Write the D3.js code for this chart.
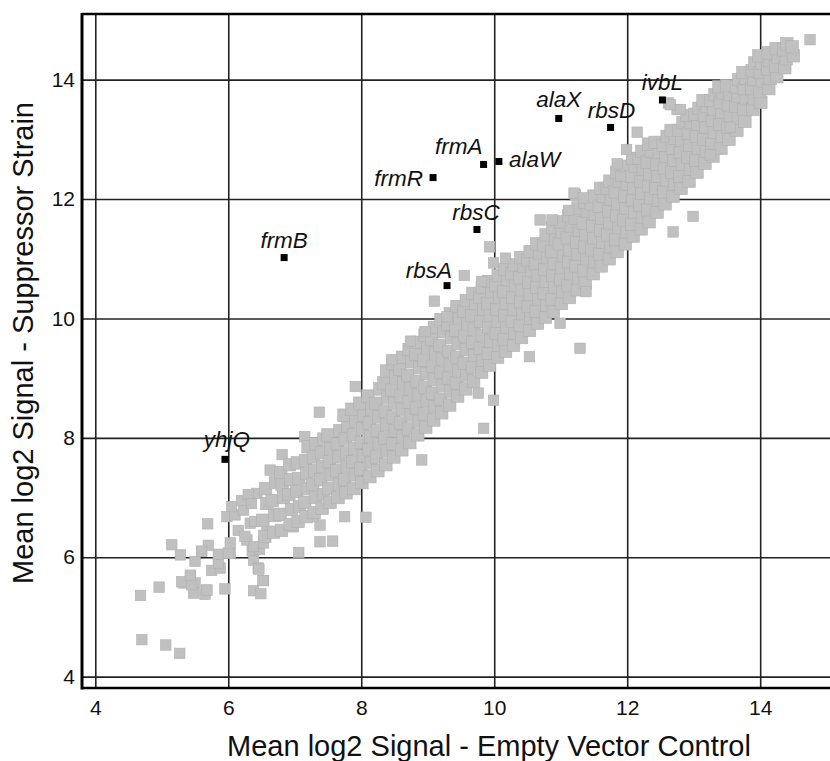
<!DOCTYPE html>
<html>
<head>
<meta charset="utf-8">
<script src="https://cdn.jsdelivr.net/npm/d3@7"></script>
<style>
  body { margin: 0; background: #fff; }
  svg { display: block; font-family: "Liberation Sans", Arial, sans-serif; }
</style>
</head>
<body>
<script>

// Tick values on both axes
const xTicks = [4, 6, 8, 10, 12, 14];
const yTicks = [4, 6, 8, 10, 12, 14];

// Highlighted genes (black squares)
const geneNames = ["ivbL", "alaX", "rbsD", "frmA", "alaW", "frmR", "rbsC", "frmB", "rbsA", "yhjQ"];
const geneX = [12.53, 10.97, 11.75, 9.84, 10.07, 9.08, 9.74, 6.84, 9.29, 5.95];
const geneY = [13.66, 13.35, 13.20, 12.58, 12.63, 12.36, 11.49, 11.02, 10.55, 7.64];

// Low end tail and scattered points
const tailPoints = [
  [4.68,5.36],[4.96,5.50],[4.70,4.62],[5.06,4.53],[5.27,4.39],[5.43,5.69],[5.33,5.57],[5.50,5.57],
  [5.48,5.40],[5.67,5.45],[5.65,5.38],[5.95,5.47],[5.75,5.78],[5.88,5.82],[5.85,5.90],[5.50,5.93],
  [5.28,6.04],[5.60,6.10],[5.85,6.05],[6.03,6.07],[6.38,5.95],[6.45,5.82],[6.53,5.61],[6.38,5.44],
  [6.49,5.39],[6.36,6.11],[6.47,6.13],[5.30,5.59],[5.45,5.54],[5.68,5.45],[6.52,5.61],[6.46,5.80],
  [5.43,5.70],[5.15,6.21],[5.69,6.56],[5.70,6.20],[5.60,6.10],[6.00,6.07],[6.03,6.24],[5.98,6.68],
  [6.10,6.71],[6.23,6.79],[6.33,6.57],[6.28,6.29],[6.38,6.18],[6.53,6.24],[6.58,6.43],[6.43,7.07],
  [6.63,7.46],[6.78,7.30],[6.81,7.72],[6.98,6.51],[7.06,6.08],[7.38,6.26],[7.57,6.27],[7.75,6.68],
  [8.07,6.67],[7.38,6.54],[7.28,6.68],[7.37,8.43],[7.91,8.86],[7.15,8.02],[6.05,6.85],[6.20,6.95],
  [6.30,7.05],[6.15,6.45],[6.25,6.35],[6.40,6.60],[6.35,6.90]
];

// Outliers around the main band
const nearPoints = [
  [14.75,14.67],[12.15,13.12],[11.99,12.83],[11.85,12.59],[11.90,12.38],[13.55,13.20],[13.25,12.74],
  [12.99,11.71],[12.69,11.45],[11.22,12.07],[11.12,11.81],[12.62,13.61],[12.75,13.50],[11.20,12.10],
  [11.34,12.02],[9.93,11.20],[9.99,10.93],[10.17,11.01],[9.55,10.72],[9.81,10.62],[11.38,10.45],
  [11.29,9.50],[10.99,9.92],[10.69,11.65],[10.87,11.65],[9.10,10.29],[9.29,10.03],[8.96,9.78],
  [8.74,9.62],[8.46,9.31],[10.53,9.36],[9.99,8.63],[9.84,8.16],[8.91,7.63],[9.76,8.75],[12.65,13.58],
  [12.80,13.50]
];

// Dense diagonal band
const bandPoints = [
  [6.55,6.35],[6.52,6.62],[6.58,6.90],[6.56,7.15],
  [6.68,6.42],[6.70,6.70],[6.66,6.95],[6.71,7.25],
  [6.80,6.45],[6.78,6.72],[6.83,7.00],[6.81,7.22],[6.79,7.42],
  [6.93,6.55],[6.95,6.80],[6.91,7.05],[6.94,7.30],[6.92,7.55],
  [7.05,6.60],[7.07,6.85],[7.03,7.10],[7.06,7.32],[7.04,7.58],
  [7.17,6.68],[7.15,6.92],[7.19,7.15],[7.18,7.40],[7.16,7.62],[7.20,7.85],
  [7.29,6.75],[7.31,7.00],[7.27,7.22],[7.30,7.45],[7.28,7.68],[7.32,7.90],
  [7.41,6.82],[7.43,7.05],[7.39,7.30],[7.42,7.52],[7.40,7.75],[7.44,7.98],
  [7.53,6.92],[7.51,7.15],[7.55,7.38],[7.52,7.60],[7.54,7.82],[7.50,8.05],
  [7.65,7.00],[7.67,7.22],[7.63,7.45],[7.66,7.68],[7.64,7.90],[7.68,8.12],
  [7.77,7.08],[7.75,7.30],[7.79,7.52],[7.78,7.75],[7.76,7.98],[7.80,8.20],[7.74,8.38],
  [7.89,7.15],[7.91,7.38],[7.87,7.60],[7.90,7.82],[7.88,8.05],[7.92,8.28],[7.86,8.48],
  [8.01,7.25],[7.99,7.48],[8.03,7.70],[8.00,7.92],[8.02,8.15],[8.04,8.38],[7.98,8.58],
  [8.13,7.35],[8.15,7.58],[8.11,7.80],[8.14,8.02],[8.12,8.25],[8.16,8.48],[8.10,8.70],
  [8.25,7.45],[8.23,7.68],[8.27,7.90],[8.24,8.12],[8.26,8.35],[8.22,8.58],[8.28,8.82],
  [8.37,7.55],[8.39,7.78],[8.35,8.00],[8.38,8.22],[8.36,8.45],[8.40,8.68],[8.34,8.92],[8.38,9.12],
  [8.49,7.68],[8.47,7.90],[8.51,8.12],[8.48,8.35],[8.50,8.58],[8.46,8.80],[8.52,9.02],[8.48,9.25],
  [8.61,7.80],[8.63,8.02],[8.59,8.25],[8.62,8.48],[8.60,8.70],[8.64,8.92],[8.58,9.15],[8.62,9.35],
  [8.73,7.92],[8.71,8.15],[8.75,8.38],[8.72,8.60],[8.74,8.82],[8.70,9.05],[8.76,9.28],[8.72,9.48],
  [8.85,8.05],[8.87,8.28],[8.83,8.50],[8.86,8.72],[8.84,8.95],[8.88,9.18],[8.82,9.40],[8.86,9.60],
  [8.97,8.18],[8.95,8.40],[8.99,8.62],[8.96,8.85],[8.98,9.08],[8.94,9.30],[9.00,9.52],[8.96,9.72],
  [9.09,8.30],[9.11,8.52],[9.07,8.75],[9.10,8.98],[9.08,9.20],[9.12,9.42],[9.06,9.65],[9.10,9.85],
  [9.21,8.42],[9.19,8.65],[9.23,8.88],[9.20,9.10],[9.22,9.32],[9.18,9.55],[9.24,9.78],[9.20,9.98],
  [9.33,8.55],[9.35,8.78],[9.31,9.00],[9.34,9.22],[9.32,9.45],[9.36,9.68],[9.30,9.90],[9.34,10.08],
  [9.45,8.70],[9.43,8.92],[9.47,9.12],[9.44,9.35],[9.46,9.58],[9.42,9.80],[9.48,10.02],[9.44,10.20],
  [9.57,8.82],[9.59,9.05],[9.55,9.25],[9.58,9.48],[9.56,9.70],[9.60,9.92],[9.54,10.12],[9.58,10.30],
  [9.69,8.95],[9.67,9.18],[9.71,9.38],[9.68,9.60],[9.70,9.82],[9.66,10.05],[9.72,10.25],[9.68,10.42],
  [9.81,9.10],[9.83,9.30],[9.79,9.50],[9.82,9.72],[9.80,9.95],[9.84,10.15],[9.78,10.35],[9.82,10.52],
  [9.93,9.22],[9.91,9.42],[9.95,9.62],[9.92,9.85],[9.94,10.05],[9.90,10.25],[9.96,10.45],[9.92,10.62],
  [10.05,9.35],[10.07,9.55],[10.03,9.75],[10.06,9.95],[10.04,10.15],[10.08,10.35],[10.02,10.55],[10.06,10.72],
  [10.17,9.45],[10.15,9.65],[10.19,9.85],[10.16,10.05],[10.18,10.25],[10.14,10.45],[10.20,10.65],[10.16,10.82],
  [10.29,9.55],[10.31,9.75],[10.27,9.95],[10.30,10.15],[10.28,10.35],[10.32,10.55],[10.26,10.75],[10.30,10.90],
  [10.41,9.68],[10.39,9.88],[10.43,10.08],[10.40,10.28],[10.42,10.48],[10.38,10.68],[10.44,10.88],[10.40,11.02],
  [10.53,9.80],[10.55,10.00],[10.51,10.20],[10.54,10.40],[10.52,10.60],[10.56,10.80],[10.50,10.98],[10.54,11.12],
  [10.65,9.92],[10.63,10.12],[10.67,10.32],[10.64,10.52],[10.66,10.72],[10.62,10.92],[10.68,11.10],[10.64,11.25],
  [10.77,10.02],[10.79,10.22],[10.75,10.42],[10.78,10.62],[10.76,10.82],[10.80,11.02],[10.74,11.22],[10.78,11.40],
  [10.89,10.12],[10.87,10.32],[10.91,10.52],[10.88,10.72],[10.90,10.92],[10.86,11.12],[10.92,11.32],[10.88,11.52],
  [11.01,10.25],[11.03,10.45],[11.00,10.65],[11.02,10.85],[11.04,11.05],[10.98,11.25],[11.02,11.45],[11.00,11.62],
  [11.13,10.35],[11.11,10.55],[11.15,10.75],[11.12,10.95],[11.14,11.15],[11.10,11.35],[11.16,11.55],[11.12,11.72],
  [11.25,10.48],[11.27,10.68],[11.23,10.88],[11.26,11.08],[11.24,11.28],[11.28,11.48],[11.22,11.68],[11.26,11.85],
  [11.37,10.60],[11.35,10.80],[11.39,11.00],[11.36,11.20],[11.38,11.40],[11.34,11.60],[11.40,11.80],[11.36,11.95],
  [11.49,10.75],[11.51,10.95],[11.47,11.15],[11.50,11.35],[11.48,11.55],[11.52,11.75],[11.46,11.92],[11.50,12.05],
  [11.61,10.88],[11.59,11.08],[11.63,11.28],[11.60,11.48],[11.62,11.68],[11.58,11.88],[11.64,12.05],[11.60,12.18],
  [11.73,11.00],[11.75,11.20],[11.71,11.40],[11.74,11.60],[11.72,11.80],[11.76,12.00],[11.70,12.18],[11.74,12.30],
  [11.85,11.12],[11.83,11.32],[11.87,11.52],[11.84,11.72],[11.86,11.92],[11.82,12.12],[11.88,12.30],[11.84,12.45],
  [11.97,11.25],[11.99,11.45],[11.95,11.65],[11.98,11.85],[11.96,12.05],[12.00,12.25],[11.94,12.42],[11.98,12.55],
  [12.09,11.38],[12.07,11.58],[12.11,11.78],[12.08,11.98],[12.10,12.18],[12.06,12.38],[12.12,12.55],[12.08,12.68],
  [12.21,11.50],[12.23,11.70],[12.19,11.90],[12.22,12.10],[12.20,12.30],[12.24,12.50],[12.18,12.68],[12.22,12.80],
  [12.33,11.62],[12.31,11.82],[12.35,12.02],[12.32,12.22],[12.34,12.42],[12.30,12.62],[12.36,12.80],[12.32,12.92],
  [12.45,11.78],[12.47,11.98],[12.43,12.18],[12.46,12.38],[12.44,12.58],[12.48,12.78],[12.42,12.95],
  [12.57,11.92],[12.55,12.12],[12.59,12.32],[12.56,12.52],[12.58,12.72],[12.54,12.90],[12.60,13.05],
  [12.69,12.05],[12.71,12.25],[12.67,12.45],[12.70,12.65],[12.68,12.85],[12.72,13.02],[12.66,13.15],
  [12.81,12.18],[12.79,12.38],[12.83,12.58],[12.80,12.78],[12.82,12.98],[12.78,13.15],[12.84,13.28],
  [12.93,12.30],[12.95,12.50],[12.91,12.70],[12.94,12.90],[12.92,13.10],[12.96,13.28],[12.90,13.40],
  [13.05,12.45],[13.03,12.65],[13.07,12.85],[13.04,13.05],[13.06,13.25],[13.02,13.42],[13.08,13.52],
  [13.17,12.60],[13.19,12.80],[13.15,13.00],[13.18,13.20],[13.16,13.40],[13.20,13.55],[13.14,13.65],
  [13.29,12.72],[13.27,12.92],[13.31,13.12],[13.28,13.32],[13.30,13.50],[13.26,13.65],[13.32,13.75],
  [13.41,12.85],[13.43,13.05],[13.39,13.25],[13.42,13.45],[13.40,13.62],[13.44,13.78],[13.38,13.88],
  [13.53,13.00],[13.51,13.20],[13.55,13.40],[13.52,13.58],[13.54,13.75],[13.50,13.90],
  [13.65,13.15],[13.67,13.35],[13.63,13.55],[13.66,13.72],[13.64,13.88],[13.68,14.00],
  [13.77,13.30],[13.75,13.50],[13.79,13.68],[13.76,13.85],[13.78,14.02],[13.74,14.12],
  [13.89,13.50],[13.91,13.68],[13.87,13.85],[13.90,14.00],[13.88,14.15],[13.92,14.28],
  [14.01,13.62],[13.99,13.80],[14.03,13.98],[14.00,14.12],[14.02,14.28],[13.98,14.40],
  [14.13,13.85],[14.15,14.02],[14.11,14.18],[14.14,14.32],[14.12,14.45],
  [14.25,14.05],[14.23,14.22],[14.27,14.38],[14.24,14.52],
  [14.37,14.20],[14.39,14.35],[14.35,14.50],[14.40,14.60],
  [14.50,14.40],[14.48,14.55]
];

const xTitle = "Mean log2 Signal - Empty Vector Control";
const yTitle = "Mean log2 Signal - Suppressor Strain";

// where each gene label sits relative to its square
const labelPlace = {
  ivbL: [0, -10, "middle"], alaX: [0, -11, "middle"], rbsD: [1, -9, "middle"],
  frmA: [-1, -10, "end"], alaW: [10, 6, "start"], frmR: [-10, 8, "end"],
  rbsC: [-1, -10, "middle"], frmB: [0, -10, "middle"], rbsA: [5, -8, "end"],
  yhjQ: [2, -12, "middle"]
};

const width = 830, height = 761;
const margin = { top: 14, right: 0, bottom: 73, left: 82 };

let svg = d3.select("body")
  .append("svg")
  .attr("width", width)
  .attr("height", height);

let xScale = d3.scaleLinear()
  .domain([3.8, 15.05])
  .range([margin.left, width - margin.right]);

let yScale = d3.scaleLinear()
  .domain([3.81, 15.1])
  .range([height - margin.bottom, margin.top]);

// grid lines
svg.append("g")
  .attr("transform", `translate(0,${height - margin.bottom})`)
  .call(d3.axisBottom(xScale).tickValues(xTicks).tickSize(-(height - margin.top - margin.bottom)).tickFormat(""))
  .call(g => g.select(".domain").remove())
  .selectAll("line").attr("stroke", "#222").attr("stroke-width", 1.6);

svg.append("g")
  .attr("transform", `translate(${margin.left},0)`)
  .call(d3.axisLeft(yScale).tickValues(yTicks).tickSize(-(width - margin.left - margin.right)).tickFormat(""))
  .call(g => g.select(".domain").remove())
  .selectAll("line").attr("stroke", "#222").attr("stroke-width", 1.6);

// gray points: band squares drawn a touch bigger so they merge like the original
function drawGray(data, s) {
  svg.append("g")
    .selectAll("rect")
    .data(data)
    .enter()
    .append("rect")
      .attr("x", d => xScale(d[0]) - s / 2)
      .attr("y", d => yScale(d[1]) - s / 2)
      .attr("width", s)
      .attr("height", s)
      .attr("fill", "#c0c0c0")
      .attr("stroke", "#b0b0b0")
      .attr("stroke-width", 0.6);
}
drawGray(tailPoints, 10.5);
drawGray(bandPoints, 12.5);
drawGray(nearPoints, 10.5);

// frame: left, top, bottom
svg.append("line")
  .attr("x1", margin.left).attr("x2", margin.left)
  .attr("y1", margin.top - 1).attr("y2", height - margin.bottom + 1.5)
  .attr("stroke", "#000").attr("stroke-width", 3);
svg.append("line")
  .attr("x1", margin.left).attr("x2", width)
  .attr("y1", margin.top).attr("y2", margin.top)
  .attr("stroke", "#000").attr("stroke-width", 2.6);
svg.append("line")
  .attr("x1", margin.left).attr("x2", width)
  .attr("y1", height - margin.bottom).attr("y2", height - margin.bottom)
  .attr("stroke", "#000").attr("stroke-width", 2.6);

// tick labels
svg.append("g")
  .attr("transform", `translate(0,${height - margin.bottom})`)
  .call(d3.axisBottom(xScale).tickValues(xTicks).tickSize(0).tickPadding(12))
  .call(g => g.select(".domain").remove())
  .selectAll("text").attr("font-size", "21px").attr("fill", "#111")
  .attr("font-family", "Liberation Sans, Arial, sans-serif");

svg.append("g")
  .attr("transform", `translate(${margin.left},0)`)
  .call(d3.axisLeft(yScale).tickValues(yTicks).tickSize(0).tickPadding(7))
  .call(g => g.select(".domain").remove())
  .selectAll("text").attr("font-size", "21px").attr("fill", "#111")
  .attr("font-family", "Liberation Sans, Arial, sans-serif");

// gene points + labels
const genes = geneNames.map((n, i) => ({ name: n, x: geneX[i], y: geneY[i] }));

svg.append("g")
  .selectAll("rect")
  .data(genes)
  .enter()
  .append("rect")
    .attr("x", d => xScale(d.x) - 3.5)
    .attr("y", d => yScale(d.y) - 3.5)
    .attr("width", 7)
    .attr("height", 7)
    .attr("fill", "#000");

svg.append("g")
  .selectAll("text")
  .data(genes)
  .enter()
  .append("text")
    .attr("x", d => xScale(d.x) + labelPlace[d.name][0])
    .attr("y", d => yScale(d.y) + labelPlace[d.name][1])
    .attr("text-anchor", d => labelPlace[d.name][2])
    .attr("font-size", "22.5px")
    .attr("font-style", "italic")
    .attr("fill", "#111")
    .text(d => d.name);

// axis titles
svg.append("text")
  .attr("x", 489)
  .attr("y", 756)
  .attr("text-anchor", "middle")
  .attr("font-size", "29px")
  .attr("fill", "#111")
  .text(xTitle);

svg.append("text")
  .attr("transform", "translate(33,343) rotate(-90)")
  .attr("text-anchor", "middle")
  .attr("font-size", "29px")
  .attr("fill", "#111")
  .text(yTitle);

</script>
</body>
</html>
